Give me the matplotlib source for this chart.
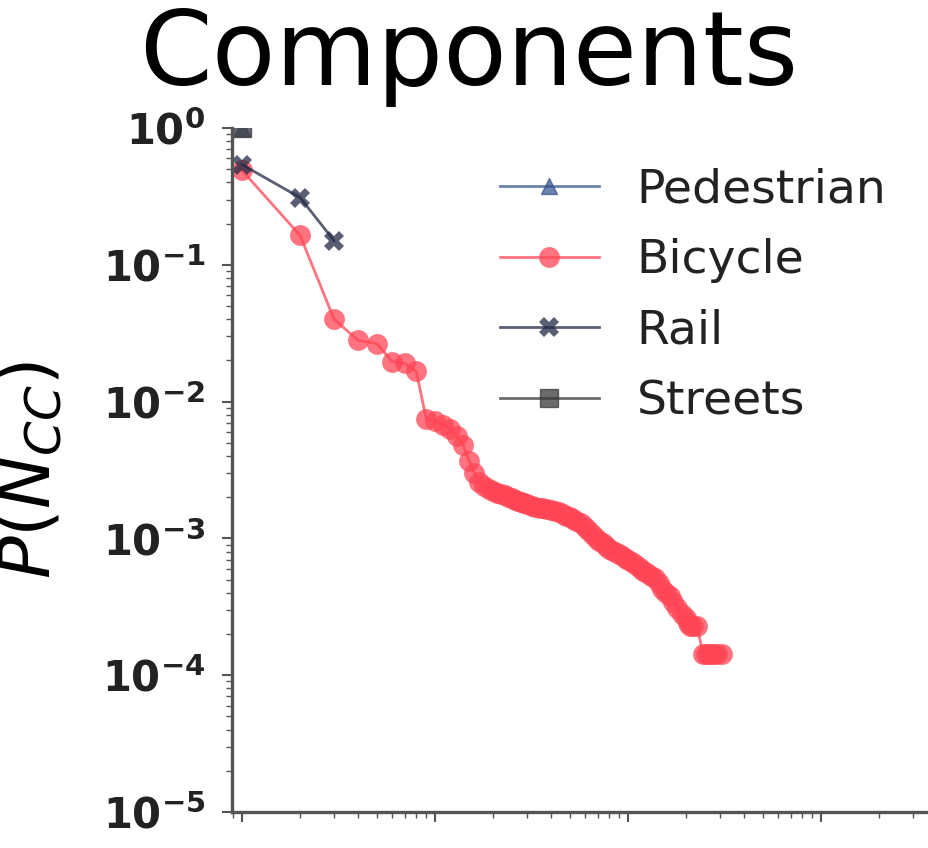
import matplotlib
matplotlib.use('Agg')
import matplotlib.pyplot as plt
from matplotlib.ticker import FuncFormatter
import numpy as np

#################################################
# Data (component size -> probability).
ped_size = [1]
ped_prob = [1.0]

bike_size = [1, 2, 3, 4, 5, 6, 7, 8, 9, 10, 11, 12, 13, 14, 15, 16, 17, 18,
             19, 20, 21, 22, 23, 24, 25, 26, 27, 28, 29, 30, 32, 33, 35, 36,
             38, 40, 42, 44, 46, 48, 50, 52, 54, 57, 60, 62, 65, 68, 71, 74,
             77, 80, 84, 88, 92, 96, 100, 105, 110, 115, 120, 125, 131, 138,
             144, 150, 157, 165, 172, 180, 190, 200, 205, 210, 218, 228, 245,
             255, 262, 270, 280, 290, 307]
bike_prob = [0.49, 0.164, 0.040, 0.028, 0.0265, 0.0196, 0.019, 0.0166,
             0.0075, 0.0072, 0.0068, 0.0063, 0.0056, 0.0048, 0.0037, 0.0030,
             0.0026, 0.0024, 0.0023, 0.00222, 0.00216, 0.00211, 0.00206,
             0.00202, 0.00197, 0.00192, 0.00188, 0.00184, 0.00181, 0.00178,
             0.00173, 0.00170, 0.00167, 0.00166, 0.00163, 0.00161, 0.00158,
             0.00156, 0.00151, 0.00147, 0.00143, 0.00139, 0.00135, 0.00129,
             0.00121, 0.00115, 0.00107, 0.00100, 0.00096, 0.00093, 0.00088,
             0.00084, 0.00081, 0.00078, 0.00075, 0.00072, 0.00070, 0.00067,
             0.00064, 0.00061, 0.00058, 0.00056, 0.00053, 0.00051, 0.00047,
             0.000425, 0.00040, 0.000377, 0.00034, 0.00031, 0.00028, 0.00026,
             0.00024, 0.000227, 0.000227, 0.000227, 0.000143, 0.000143,
             0.000143, 0.000143, 0.000143, 0.000143, 0.000143]

rail_size = [1, 2, 3]
rail_prob = [0.54, 0.31, 0.15]

street_size = [1]
street_prob = [1.0]

#################################################
# Display.
W, H = 929, 848
fig = plt.figure(figsize=(W / 100, H / 100), dpi=100)

ax = fig.add_axes([232 / W, (H - 812) / H, (W - 232) / W, 684 / H])
ax.set_xscale('log')
ax.set_yscale('log')

ax.plot(ped_size, ped_prob, marker='^', color='#2f4f8c', lw=2,
        markersize=11, alpha=0.7, label='Pedestrian')
ax.plot(bike_size, bike_prob, marker='o', color='#ff4555', lw=2,
        markersize=15, alpha=0.75, markeredgewidth=0, label='Bicycle')
ax.plot(rail_size, rail_prob, marker='X', color='#232a45', lw=2,
        markersize=15, alpha=0.75, markeredgewidth=0, label='Rail')
ax.plot(street_size, street_prob, marker='s', color='#3a3a3a', lw=2,
        markersize=13, alpha=0.75, label='Streets')

ax.set_xlim(10 ** (-10 / 193), 10 ** (687 / 193))
ax.set_ylim(1e-5, 1)

for side in ['top', 'right']:
    ax.spines[side].set_visible(False)
for side in ['left', 'bottom']:
    ax.spines[side].set_linewidth(2.4)
    ax.spines[side].set_color('#555555')


def sci_bold(v, pos):
    e = int(round(np.log10(v)))
    return r'$\mathbf{10^{%d}}$' % e


ax.tick_params(which='major', length=7, width=1.5, color='#555555',
               labelsize=30, labelcolor='#222222')
ax.tick_params(which='minor', length=4, width=1.0, color='#555555')
ax.tick_params(axis='y', which='major', pad=12)
ax.tick_params(axis='x', which='major', pad=26, labelsize=24)
ax.set_yticks([1e-5, 1e-4, 1e-3, 1e-2, 1e-1, 1])
ax.yaxis.set_major_formatter(FuncFormatter(sci_bold))

ax.set_ylabel(r'$P(N_{CC})$', fontsize=51)
ax.yaxis.set_label_coords(-0.24, 0.5)

fig.text(469 / W, (H - 85) / H, 'Components', fontsize=75,
         ha='center', va='baseline')

leg = ax.legend(loc='upper left', bbox_to_anchor=(481 / W, (H - 149) / H),
                bbox_transform=fig.transFigure, frameon=False, fontsize=34,
                handlelength=2.1, handletextpad=0.8, labelspacing=0.54,
                borderaxespad=0)
for t in leg.get_texts():
    t.set_color('#222222')

fig.savefig('out.png', dpi=100)
